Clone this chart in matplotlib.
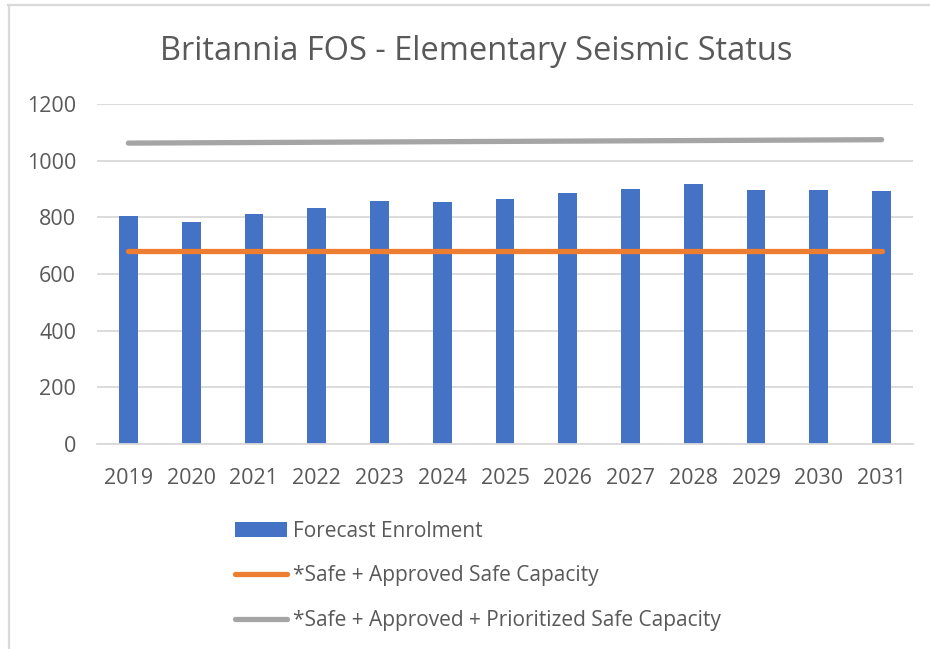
import numpy as np
import matplotlib
matplotlib.use('agg')
import matplotlib.pyplot as plt
from matplotlib.lines import Line2D

years = ['2019', '2020', '2021', '2022', '2023', '2024', '2025',
         '2026', '2027', '2028', '2029', '2030', '2031']
enrolment = [805, 782, 811, 833, 859, 855, 866, 885, 899, 919, 896, 895, 894]
safe_capacity = [682] * 13
prioritized_capacity = [1062, 1063, 1064, 1065, 1066, 1067, 1068,
                        1069, 1070, 1071, 1072, 1073, 1074]
y_ticks = [0, 200, 400, 600, 800, 1000, 1200]

text_color = '#595959'
grid_color = '#D9D9D9'
plt.rcParams['font.family'] = ['Open Sans', 'DejaVu Sans']

fig = plt.figure(figsize=(9.3, 6.49), dpi=100)
ax = fig.add_axes([97 / 930, 1 - 444 / 649, 816 / 930, 340 / 649])

x = np.arange(len(years))
bars = ax.bar(x, enrolment, width=0.3, color='#4472C4', zorder=2,
              label='Forecast Enrolment')
l1, = ax.plot(x, safe_capacity, color='#ED7D31', linewidth=3.8,
              solid_capstyle='round', zorder=3,
              label='*Safe + Approved Safe Capacity')
l2, = ax.plot(x, prioritized_capacity, color='#A5A5A5', linewidth=3.8,
              solid_capstyle='round', zorder=3,
              label='*Safe + Approved + Prioritized Safe Capacity')

ax.set_xlim(-0.5, len(years) - 0.5)
ax.set_ylim(0, 1200)
ax.set_yticks(y_ticks)
ax.set_xticks(x, years)
ax.yaxis.grid(True, color=grid_color, linewidth=1.3, zorder=0)
for s in ['top', 'right', 'left']:
    ax.spines[s].set_visible(False)
ax.spines['bottom'].set_color(grid_color)
ax.spines['bottom'].set_linewidth(1.3)
ax.tick_params(axis='both', length=0, labelsize=15.5, colors=text_color)
ax.tick_params(axis='y', pad=15)
ax.tick_params(axis='x', pad=17)

fig.text(476 / 930, 1 - 51 / 649, 'Britannia FOS - Elementary Seismic Status',
         ha='center', va='center', fontsize=23.5, color=text_color)

leg = fig.legend([bars, l1, l2],
                 ['Forecast Enrolment', '*Safe + Approved Safe Capacity',
                  '*Safe + Approved + Prioritized Safe Capacity'],
                 loc='upper left', bbox_to_anchor=(216 / 930, 1 - 502 / 649),
                 frameon=False, fontsize=15, labelcolor=text_color,
                 handlelength=2.5, handletextpad=0.3, labelspacing=1.14)

# chart area border (left and top edges only)
fig.add_artist(Line2D([8.5 / 930, 8.5 / 930], [0, 1 - 5 / 649],
                      transform=fig.transFigure, color=grid_color, linewidth=1.6))
fig.add_artist(Line2D([8 / 930, 1], [1 - 5 / 649, 1 - 5 / 649],
                      transform=fig.transFigure, color=grid_color, linewidth=1.6))

plt.savefig('out.png', dpi=100)
